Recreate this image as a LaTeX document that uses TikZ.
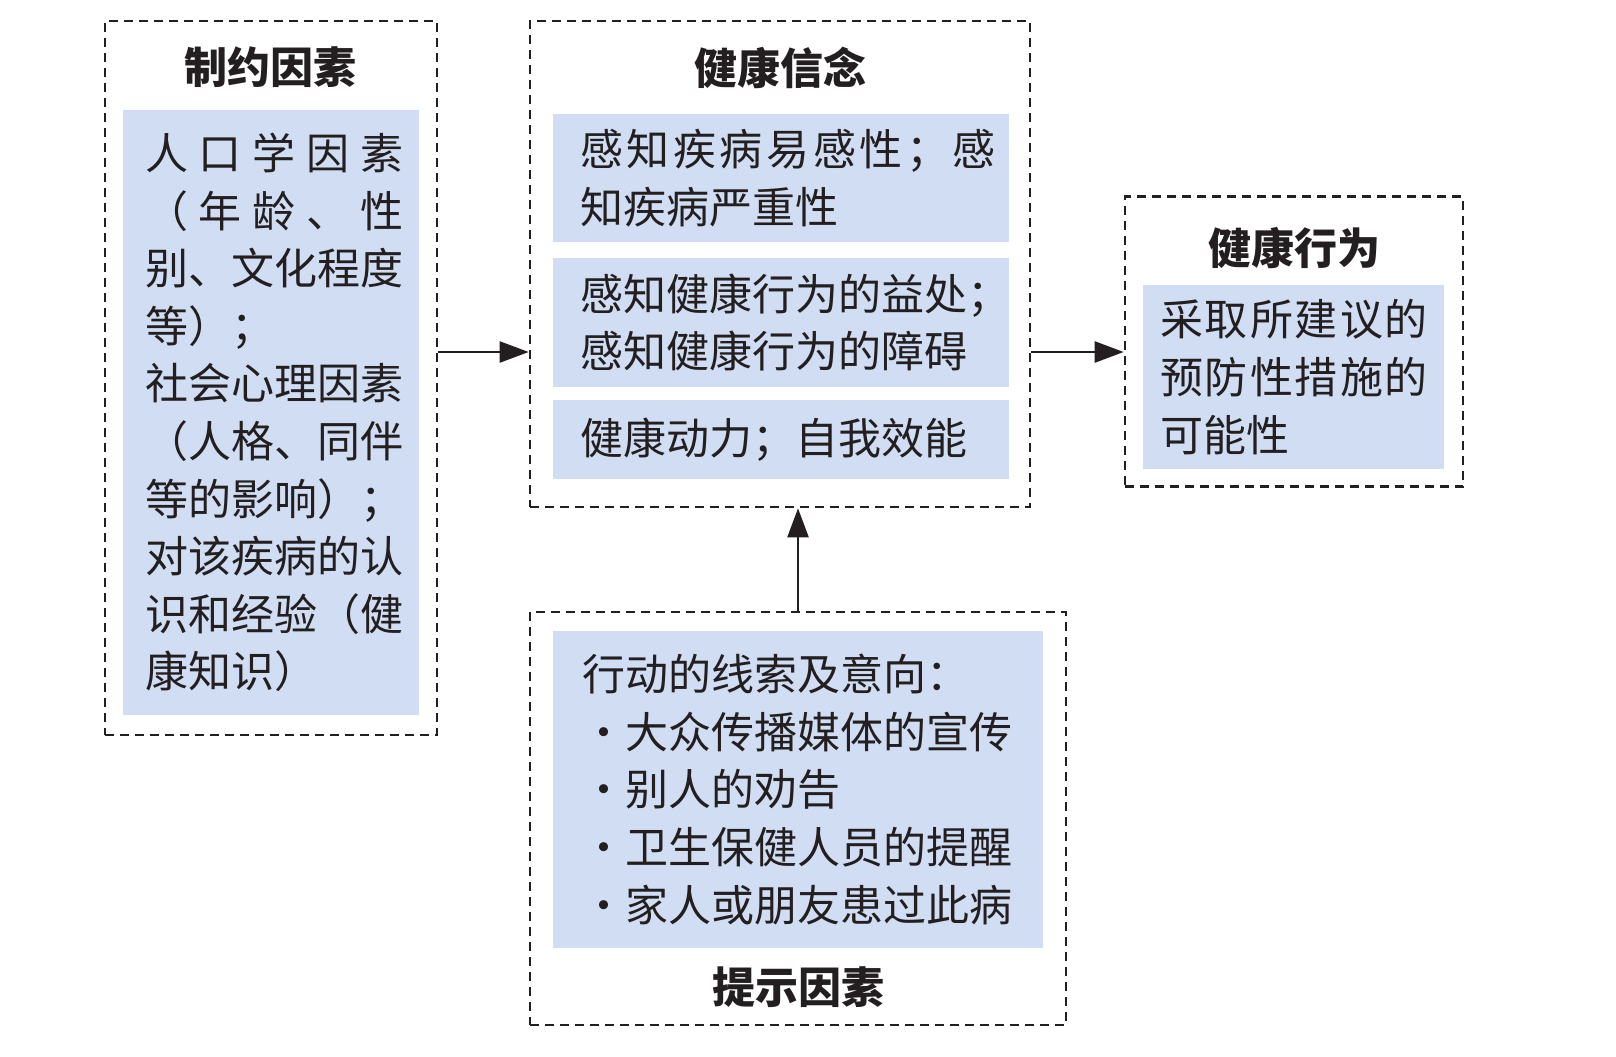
\documentclass[tikz,border=0pt]{standalone}
\usepackage{fontspec}
\setmainfont{Noto Sans CJK SC}
\usepackage{tikz}
\usetikzlibrary{arrows.meta,positioning}
\definecolor{fillblue}{RGB}{208,221,242}
\definecolor{inkgray}{RGB}{35,31,32}
% spread the characters of #2 evenly over the width #1
\newcommand\spread[2]{\hbox to #1{\spreadA#2\relax}}
\def\spreadA#1{#1\spreadB}
\def\spreadB#1{\ifx\relax#1\else\hfil#1\expandafter\spreadB\fi}

\begin{document}
\begin{tikzpicture}[x=0.5pt,y=0.5pt,yscale=-1,
    groupbox/.style={draw=inkgray,line width=1.3pt,dash pattern=on 4.5pt off 3pt,inner sep=0pt},
    fillbox/.style={fill=fillblue,inner sep=0pt},
    title/.style={text=inkgray,font=\fontsize{21.5}{28.8}\selectfont\bfseries,inner sep=0pt},
    body/.style={text=inkgray,font=\fontsize{21.5}{28.8}\selectfont,align=left,inner sep=0pt,anchor=west},
    arr/.style={draw=inkgray,line width=1.2pt,-{Triangle[length=14.5pt,width=10.5pt]}}]
        \useasboundingbox (0,0) rectangle (1616,1056);
        %Dashed group boxes
        \node[groupbox,minimum width=166pt,minimum height=357pt] (yz) at (271,378) {};
        \node[groupbox,minimum width=250pt,minimum height=243pt] (xn) at (780,264) {};
        \node[groupbox,minimum width=169pt,minimum height=145pt] (hx) at (1294,341.5) {};
        \node[groupbox,minimum width=268pt,minimum height=206.5pt] (ts) at (798,818.5) {};
        %Filled boxes
        \node[fillbox,minimum width=148pt,minimum height=302.5pt] (yzf) at (271,412.5) {};
        \node[fillbox,minimum width=228pt,minimum height=64pt] (xnf1) at (781,178) {};
        \node[fillbox,minimum width=228pt,minimum height=64.5pt] (xnf2) at (781,322.5) {};
        \node[fillbox,minimum width=228pt,minimum height=39.5pt] (xnf3) at (781,439.5) {};
        \node[fillbox,minimum width=150.5pt,minimum height=92pt] (hxf) at (1293.5,377) {};
        \node[fillbox,minimum width=245pt,minimum height=158.5pt] (tsf) at (798,789.5) {};
        % Titles
        \node[title] (yzt) at (270,67) {制约因素};
        \node[title] (xnt) at (780,68) {健康信念};
        \node[title] (hxt) at (1294,248) {健康行为};
        \node[title] (tst) at (798,987) {提示因素};
        % Text Nodes
        \node[body,right=11pt of yzf.west] (yztx) {\spread{129pt}{人口学因素}\\
            \spread{129pt}{（年龄、性}\\
            \spread{129pt}{别、文化程度}\\
            等）；\\
            \spread{129pt}{社会心理因素}\\
            \spread{129pt}{（人格、同伴}\\
            等的影响）；\\
            \spread{129pt}{对该疾病的认}\\
            \spread{129pt}{识和经验（健}\\
            康知识）};
        \node[body,right=13.5pt of xnf1.west] (xntx1) {\spread{208pt}{感知疾病易感性；感}\\知疾病严重性};
        \node[body,right=13.5pt of xnf2.west] (xntx2) {感知健康行为的益处；\\感知健康行为的障碍};
        \node[body,right=13.5pt of xnf3.west] (xntx3) {健康动力；自我效能};
        \node[body,right=8.5pt of hxf.west] (hxtx) {\spread{134pt}{采取所建议的}\\
            \spread{134pt}{预防性措施的}\\
            可能性};
        \node[body,right=14.5pt of tsf.west] (tstx) {行动的线索及意向：\\
            \makebox[21.5pt]{·}大众传播媒体的宣传\\
            \makebox[21.5pt]{·}别人的劝告\\
            \makebox[21.5pt]{·}卫生保健人员的提醒\\
            \makebox[21.5pt]{·}家人或朋友患过此病};
        %Arrows
        \coordinate (arrowrow) at (0,352);
        \draw[arr] (yz.east |- arrowrow) -- (xn.west |- arrowrow);
        \draw[arr] (xn.east |- arrowrow) -- (hx.west |- arrowrow);
        \draw[arr] (ts.north) -- (xn.south -| ts.north);
\end{tikzpicture}
\end{document}
